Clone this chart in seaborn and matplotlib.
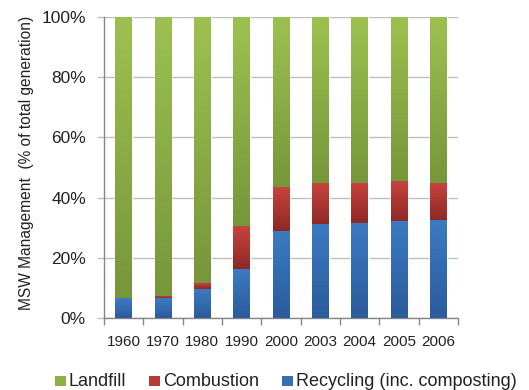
import numpy as np
import pandas as pd
import matplotlib
matplotlib.use("Agg")
import matplotlib.pyplot as plt
import seaborn as sns
from matplotlib.colors import LinearSegmentedColormap
from matplotlib.patches import Rectangle

# MSW management shares (% of total generation)
years = ["1960", "1970", "1980", "1990", "2000", "2003", "2004", "2005", "2006"]
recycling = [6.4, 6.6, 9.6, 16.0, 28.9, 30.9, 31.3, 31.9, 32.3]
combustion = [0.0, 0.4, 1.8, 14.6, 14.3, 13.9, 13.5, 13.6, 12.5]
landfill = [93.6, 93.0, 88.6, 69.4, 56.8, 55.2, 55.2, 54.5, 55.2]

series_names = ["Landfill", "Combustion", "Recycling (inc. composting)"]
# (light top, dark bottom) for each segment
grad_colors = {
    "Landfill": ("#9DC150", "#76963A"),
    "Combustion": ("#C8433D", "#8C2825"),
    "Recycling (inc. composting)": ("#3C7AC2", "#2B5C9C"),
}
mid_colors = {
    "Landfill": "#8DB049",
    "Combustion": "#B83A35",
    "Recycling (inc. composting)": "#3570B5",
}

sns.set_theme(style="white")
plt.rcParams["font.family"] = ["Liberation Sans", "DejaVu Sans"]

W, H = 529, 390
fig = plt.figure(figsize=(W / 100, H / 100), dpi=100)
ax = fig.add_axes([104 / W, 1 - 318 / H, 354 / W, 301 / H])

df = pd.DataFrame({
    "year": years,
    "Recycling (inc. composting)": recycling,
    "Combustion": combustion,
    "Landfill": landfill,
})
df["top_rec"] = df["Recycling (inc. composting)"]
df["top_comb"] = df["top_rec"] + df["Combustion"]
df["top_land"] = df["top_comb"] + df["Landfill"]

bar_w = 0.43
layers = [
    ("Landfill", "top_land", "top_comb"),
    ("Combustion", "top_comb", "top_rec"),
    ("Recycling (inc. composting)", "top_rec", None),
]

# cumulative bars, each drawn over the previous one
for name, top_col, _ in layers:
    sns.barplot(data=df, x="year", y=top_col, color=mid_colors[name],
                width=bar_w, saturation=1, ax=ax, zorder=2)

# vertical gradient over each visible segment
grad = np.linspace(0, 1, 256).reshape(-1, 1)
for name, top_col, bot_col in layers:
    cmap = LinearSegmentedColormap.from_list(name, [grad_colors[name][1], grad_colors[name][0]])
    for i in range(len(years)):
        top = df[top_col].iloc[i]
        bot = df[bot_col].iloc[i] if bot_col else 0.0
        if top - bot <= 0:
            continue
        ax.imshow(grad, cmap=cmap, origin="lower", aspect="auto",
                  extent=[i - bar_w / 2, i + bar_w / 2, bot, top],
                  interpolation="bicubic", zorder=3)

ax.set_xlim(-0.5, len(years) - 0.5)
ax.set_ylim(0, 100)
ax.set_yticks(np.arange(0, 101, 20))
ax.set_yticklabels([f"{v}%" for v in range(0, 101, 20)], fontsize=12.5)
ax.yaxis.grid(True, color="#BFBFBF", linewidth=1.0, zorder=0)
ax.set_axisbelow(True)

ax.set_xticks(range(len(years)))
ax.set_xticklabels(years, fontsize=11)
ax.set_xticks(np.arange(-0.5, len(years)), minor=True)
ax.tick_params(axis="x", which="major", length=0, pad=12, colors="#222222")
ax.tick_params(axis="x", which="minor", length=5, width=1, color="#868686",
               direction="out", bottom=True)
ax.tick_params(axis="y", which="major", length=5, width=1, direction="out",
               left=True, pad=8, labelcolor="#222222", color="#BFBFBF")

for side in ["top", "right"]:
    ax.spines[side].set_visible(False)
for side in ["left", "bottom"]:
    ax.spines[side].set_color("#868686")
    ax.spines[side].set_linewidth(1.0)

ax.set_xlabel("")
ax.set_ylabel("MSW Management  (% of total generation)", fontsize=11.2,
              color="#222222", labelpad=0)
ax.yaxis.set_label_coords(34 / W, 1 - 163 / H, transform=fig.transFigure)

# legend row beneath the chart
legend_items = [(55, 69), (149, 163), (282, 296)]
for name, (sq_x, tx_x) in zip(series_names, legend_items):
    fig.add_artist(Rectangle((sq_x / W, 1 - 386 / H), 10.5 / W, 10.5 / H,
                             transform=fig.transFigure, facecolor=mid_colors[name],
                             edgecolor="none"))
    fig.text(tx_x / W, 1 - 381 / H, name, fontsize=13, color="#222222",
             ha="left", va="center")

fig.savefig("out.png", dpi=100)
